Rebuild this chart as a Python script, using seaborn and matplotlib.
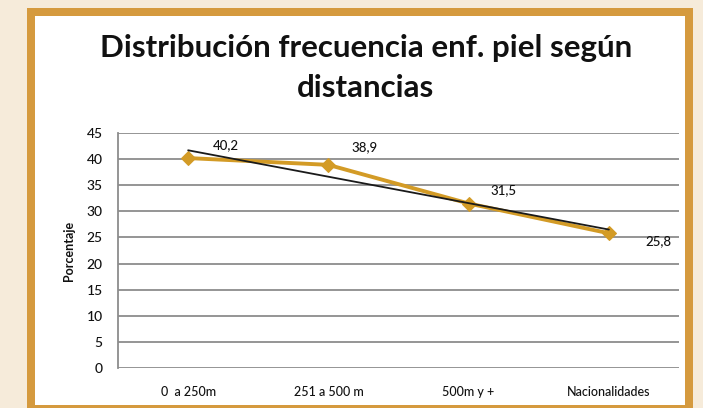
import numpy as np
import pandas as pd
import matplotlib
matplotlib.use("Agg")
import matplotlib.pyplot as plt
import seaborn as sns
from matplotlib.patches import Rectangle

categories = ["0  a 250m", "251 a 500 m", "500m y +", "Nacionalidades"]
values = [40.2, 38.9, 31.5, 25.8]
value_labels = ["40,2", "38,9", "31,5", "25,8"]
y_ticks = [0, 5, 10, 15, 20, 25, 30, 35, 40, 45]

sns.set_theme(style="white")
plt.rcParams['font.family'] = ['Lato', 'DejaVu Sans']

W, H = 703, 408
fig = plt.figure(figsize=(W / 100, H / 100), dpi=100)
fig.patch.set_facecolor("#f6ebda")

# frame
fig.patches.append(Rectangle((27 / W, 0), (693 - 27) / W, (H - 8) / H,
                             transform=fig.transFigure, facecolor="#d59a3e",
                             edgecolor="none", zorder=-2))
fig.patches.append(Rectangle((35 / W, 3 / H), (685 - 35) / W, (H - 16 - 3) / H,
                             transform=fig.transFigure, facecolor="white",
                             edgecolor="none", zorder=-1))

ax = fig.add_axes([118 / W, 1 - 368 / H, (679 - 118) / W, (368 - 133) / H])
ax.set_zorder(2)
ax.set_facecolor("none")

df = pd.DataFrame({"cat": categories, "val": values, "x": np.arange(len(categories))})

# trend line
coef = np.polyfit(df["x"], df["val"], 1)
trend = np.polyval(coef, df["x"])
sns.lineplot(x=df["x"], y=trend, ax=ax, color="#1a1a1a", linewidth=1.3, zorder=3)

sns.lineplot(data=df, x="x", y="val", ax=ax, color="#d39b26", linewidth=2.8,
             marker="D", markersize=7, markeredgecolor="#d39b26", zorder=2)

offsets = [(0.27, 2.5), (0.26, 3.4), (0.25, 2.6), (0.35, -1.6)]
for i, (lab, (dx, dy)) in enumerate(zip(value_labels, offsets)):
    ax.text(i + dx, values[i] + dy, lab, ha="center", va="center",
            fontsize=9.5, color="#111111", fontweight="medium")

ax.set_xlim(-0.5, 3.5)
ax.set_ylim(0, 45)
ax.set_yticks(y_ticks)
ax.set_xticks(range(len(categories)))
ax.set_xticklabels(categories)
ax.yaxis.grid(True, color="#8c8c8c", linewidth=1.3)
ax.xaxis.grid(False)
ax.set_axisbelow(True)
for s in ["top", "right", "bottom"]:
    ax.spines[s].set_visible(False)
ax.spines["left"].set_color("#8c8c8c")
ax.spines["left"].set_linewidth(1.3)
ax.tick_params(axis="y", length=0, pad=11, labelsize=10, labelcolor="#111111")
ax.tick_params(axis="x", length=0, pad=13, labelsize=9, labelcolor="#111111")
for lbl in ax.get_xticklabels() + ax.get_yticklabels():
    lbl.set_fontweight("medium")
ax.set_xlabel("")
ax.set_ylabel("Porcentaje", fontsize=9, fontweight="bold", labelpad=8, color="#111111")

fig.text(366 / W, 1 - 48 / H, "Distribución frecuencia enf. piel según",
         ha="center", va="center", fontsize=22.5, fontweight="bold", color="#111111")
fig.text(366 / W, 1 - 88 / H, "distancias",
         ha="center", va="center", fontsize=22.5, fontweight="bold", color="#111111")

fig.savefig("out.png", dpi=100, facecolor=fig.get_facecolor())
